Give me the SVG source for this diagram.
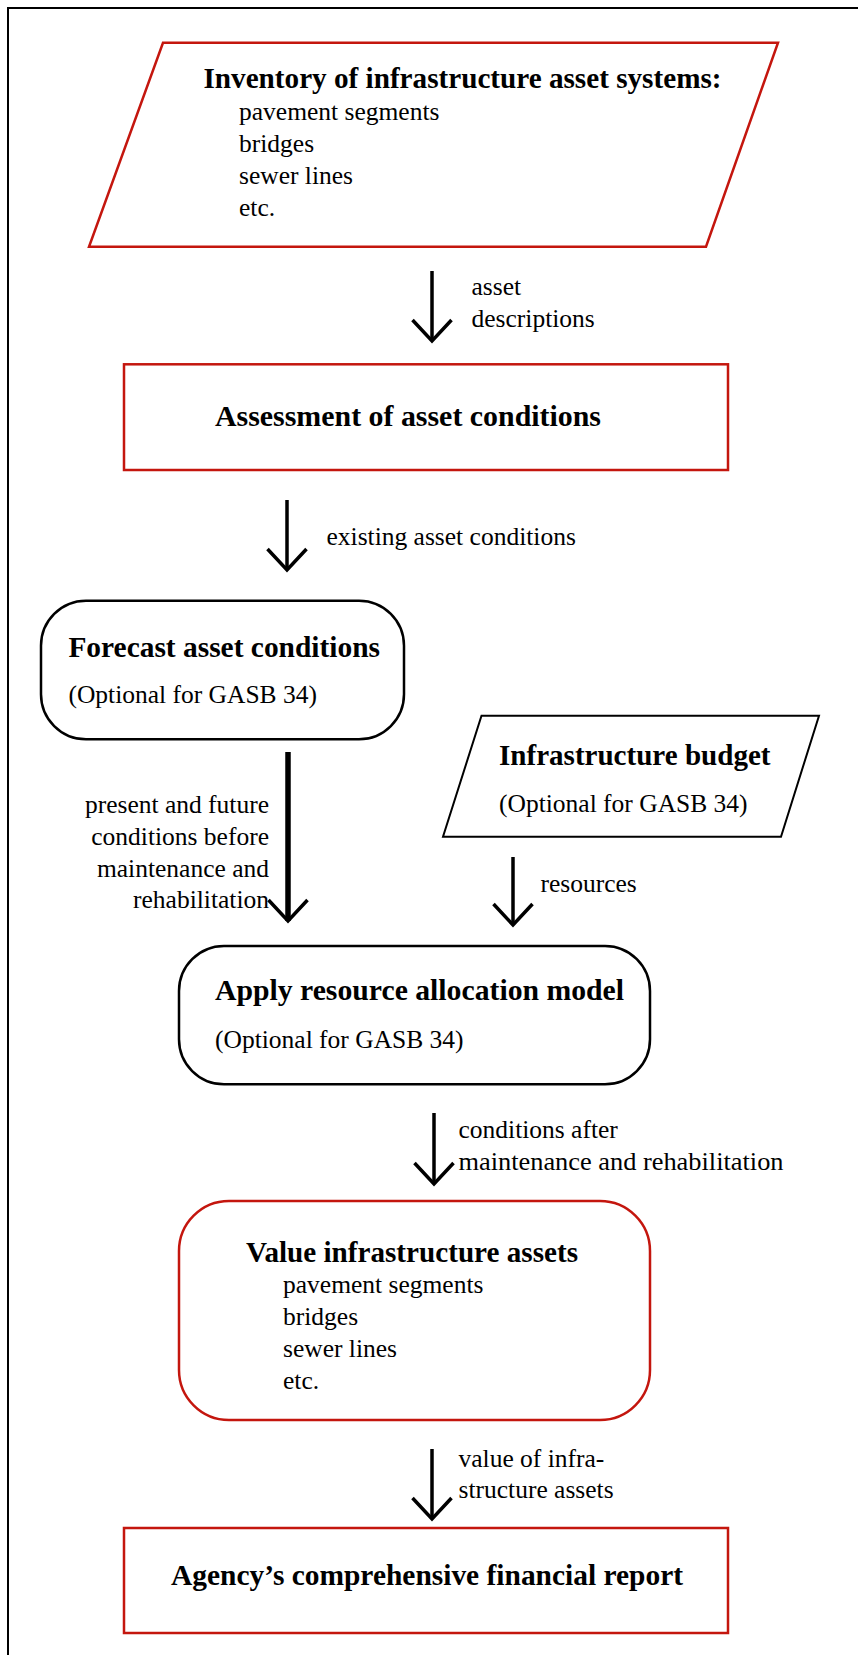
<svg xmlns="http://www.w3.org/2000/svg" width="858" height="1655" viewBox="0 0 858 1655">
<style>
.bg{fill:#ffffff}
.frame{fill:none;stroke:#000;stroke-width:2}
.red{fill:#fff;stroke:#c4160e;stroke-width:2.5}
.blk{fill:#fff;stroke:#000;stroke-width:2.5}
.t{font-family:"Liberation Serif","Times New Roman",serif;font-weight:bold;font-size:29px;fill:#000}
.r{font-family:"Liberation Serif","Times New Roman",serif;font-size:25.5px;fill:#000}
.e{text-anchor:end}
.conn{stroke:#000;stroke-width:3.5;fill:none;marker-end:url(#ah)}
.thick{stroke-width:5.5}
</style>
<defs>
<marker id="ah" markerUnits="userSpaceOnUse" orient="auto" refX="0" refY="0" markerWidth="30" markerHeight="50" overflow="visible">
<path d="M-21,-19.5 L0,0 L-21,19.5" fill="none" stroke="#000" stroke-width="3.5" stroke-linejoin="miter"/>
</marker>
</defs>
<rect class="bg" x="0" y="0" width="858" height="1655"/>
<path class="frame" d="M8,1655 V8 H858"/>

<g id="connectors">
<line class="conn" x1="432" y1="271" x2="432" y2="341"/>
<line class="conn" x1="287" y1="500" x2="287" y2="570"/>
<line class="conn thick" x1="288" y1="752" x2="288" y2="921"/>
<line class="conn" x1="513" y1="857" x2="513" y2="925"/>
<line class="conn" x1="434" y1="1113" x2="434" y2="1184"/>
<line class="conn" x1="432" y1="1449" x2="432" y2="1519"/>
<text class="r" x="471.5" y="295">asset</text>
<text class="r" x="471.5" y="326.5">descriptions</text>
<text class="r" x="326.5" y="545">existing asset conditions</text>
<text class="r e" x="269" y="813">present and future</text>
<text class="r e" x="269" y="845">conditions before</text>
<text class="r e" x="269" y="876.5">maintenance and</text>
<text class="r e" x="269" y="908">rehabilitation</text>
<text class="r" x="540.5" y="891.5">resources</text>
<text class="r" x="458.5" y="1138">conditions after</text>
<text class="r" x="458.5" y="1170" textLength="325" lengthAdjust="spacingAndGlyphs">maintenance and rehabilitation</text>
<text class="r" x="458.5" y="1466.5">value of infra-</text>
<text class="r" x="458.5" y="1498">structure assets</text>
</g>

<g id="inventory">
<polygon class="red" points="163,42.7 778,42.7 706,246.7 89,246.7"/>
<text class="t" x="203.5" y="88" textLength="518" lengthAdjust="spacingAndGlyphs">Inventory of infrastructure asset systems:</text>
<text class="r" x="239" y="120">pavement segments</text>
<text class="r" x="239" y="151.7">bridges</text>
<text class="r" x="239" y="184">sewer lines</text>
<text class="r" x="239" y="216">etc.</text>
</g>

<g id="assessment">
<rect class="red" x="124" y="364.3" width="604" height="105.7"/>
<text class="t" x="215" y="425.5" textLength="386" lengthAdjust="spacingAndGlyphs">Assessment of asset conditions</text>
</g>

<g id="forecast">
<rect class="blk" x="41" y="600.7" width="363" height="138.6" rx="45" ry="45"/>
<text class="t" x="68.4" y="656.7" textLength="311.6" lengthAdjust="spacingAndGlyphs">Forecast asset conditions</text>
<text class="r" x="68.4" y="703">(Optional for GASB 34)</text>
</g>

<g id="budget">
<polygon class="blk" points="481.5,715.7 819,715.7 781,836.7 443,836.7" style="stroke-width:2"/>
<text class="t" x="499" y="765" textLength="271.5" lengthAdjust="spacingAndGlyphs">Infrastructure budget</text>
<text class="r" x="499" y="811.7">(Optional for GASB 34)</text>
</g>

<g id="allocation">
<rect class="blk" x="179" y="946" width="471" height="138.3" rx="45" ry="45"/>
<text class="t" x="215" y="1000" textLength="409" lengthAdjust="spacingAndGlyphs">Apply resource allocation model</text>
<text class="r" x="215" y="1048">(Optional for GASB 34)</text>
</g>

<g id="value">
<rect class="red" x="179" y="1201" width="471" height="219" rx="50" ry="50"/>
<text class="t" x="246" y="1261.7" textLength="332" lengthAdjust="spacingAndGlyphs">Value infrastructure assets</text>
<text class="r" x="283" y="1293.3">pavement segments</text>
<text class="r" x="283" y="1325">bridges</text>
<text class="r" x="283" y="1356.7">sewer lines</text>
<text class="r" x="283" y="1389">etc.</text>
</g>

<g id="report">
<rect class="red" x="124" y="1528" width="604" height="105"/>
<text class="t" x="171" y="1585" textLength="512" lengthAdjust="spacingAndGlyphs">Agency’s comprehensive financial report</text>
</g>
</svg>
